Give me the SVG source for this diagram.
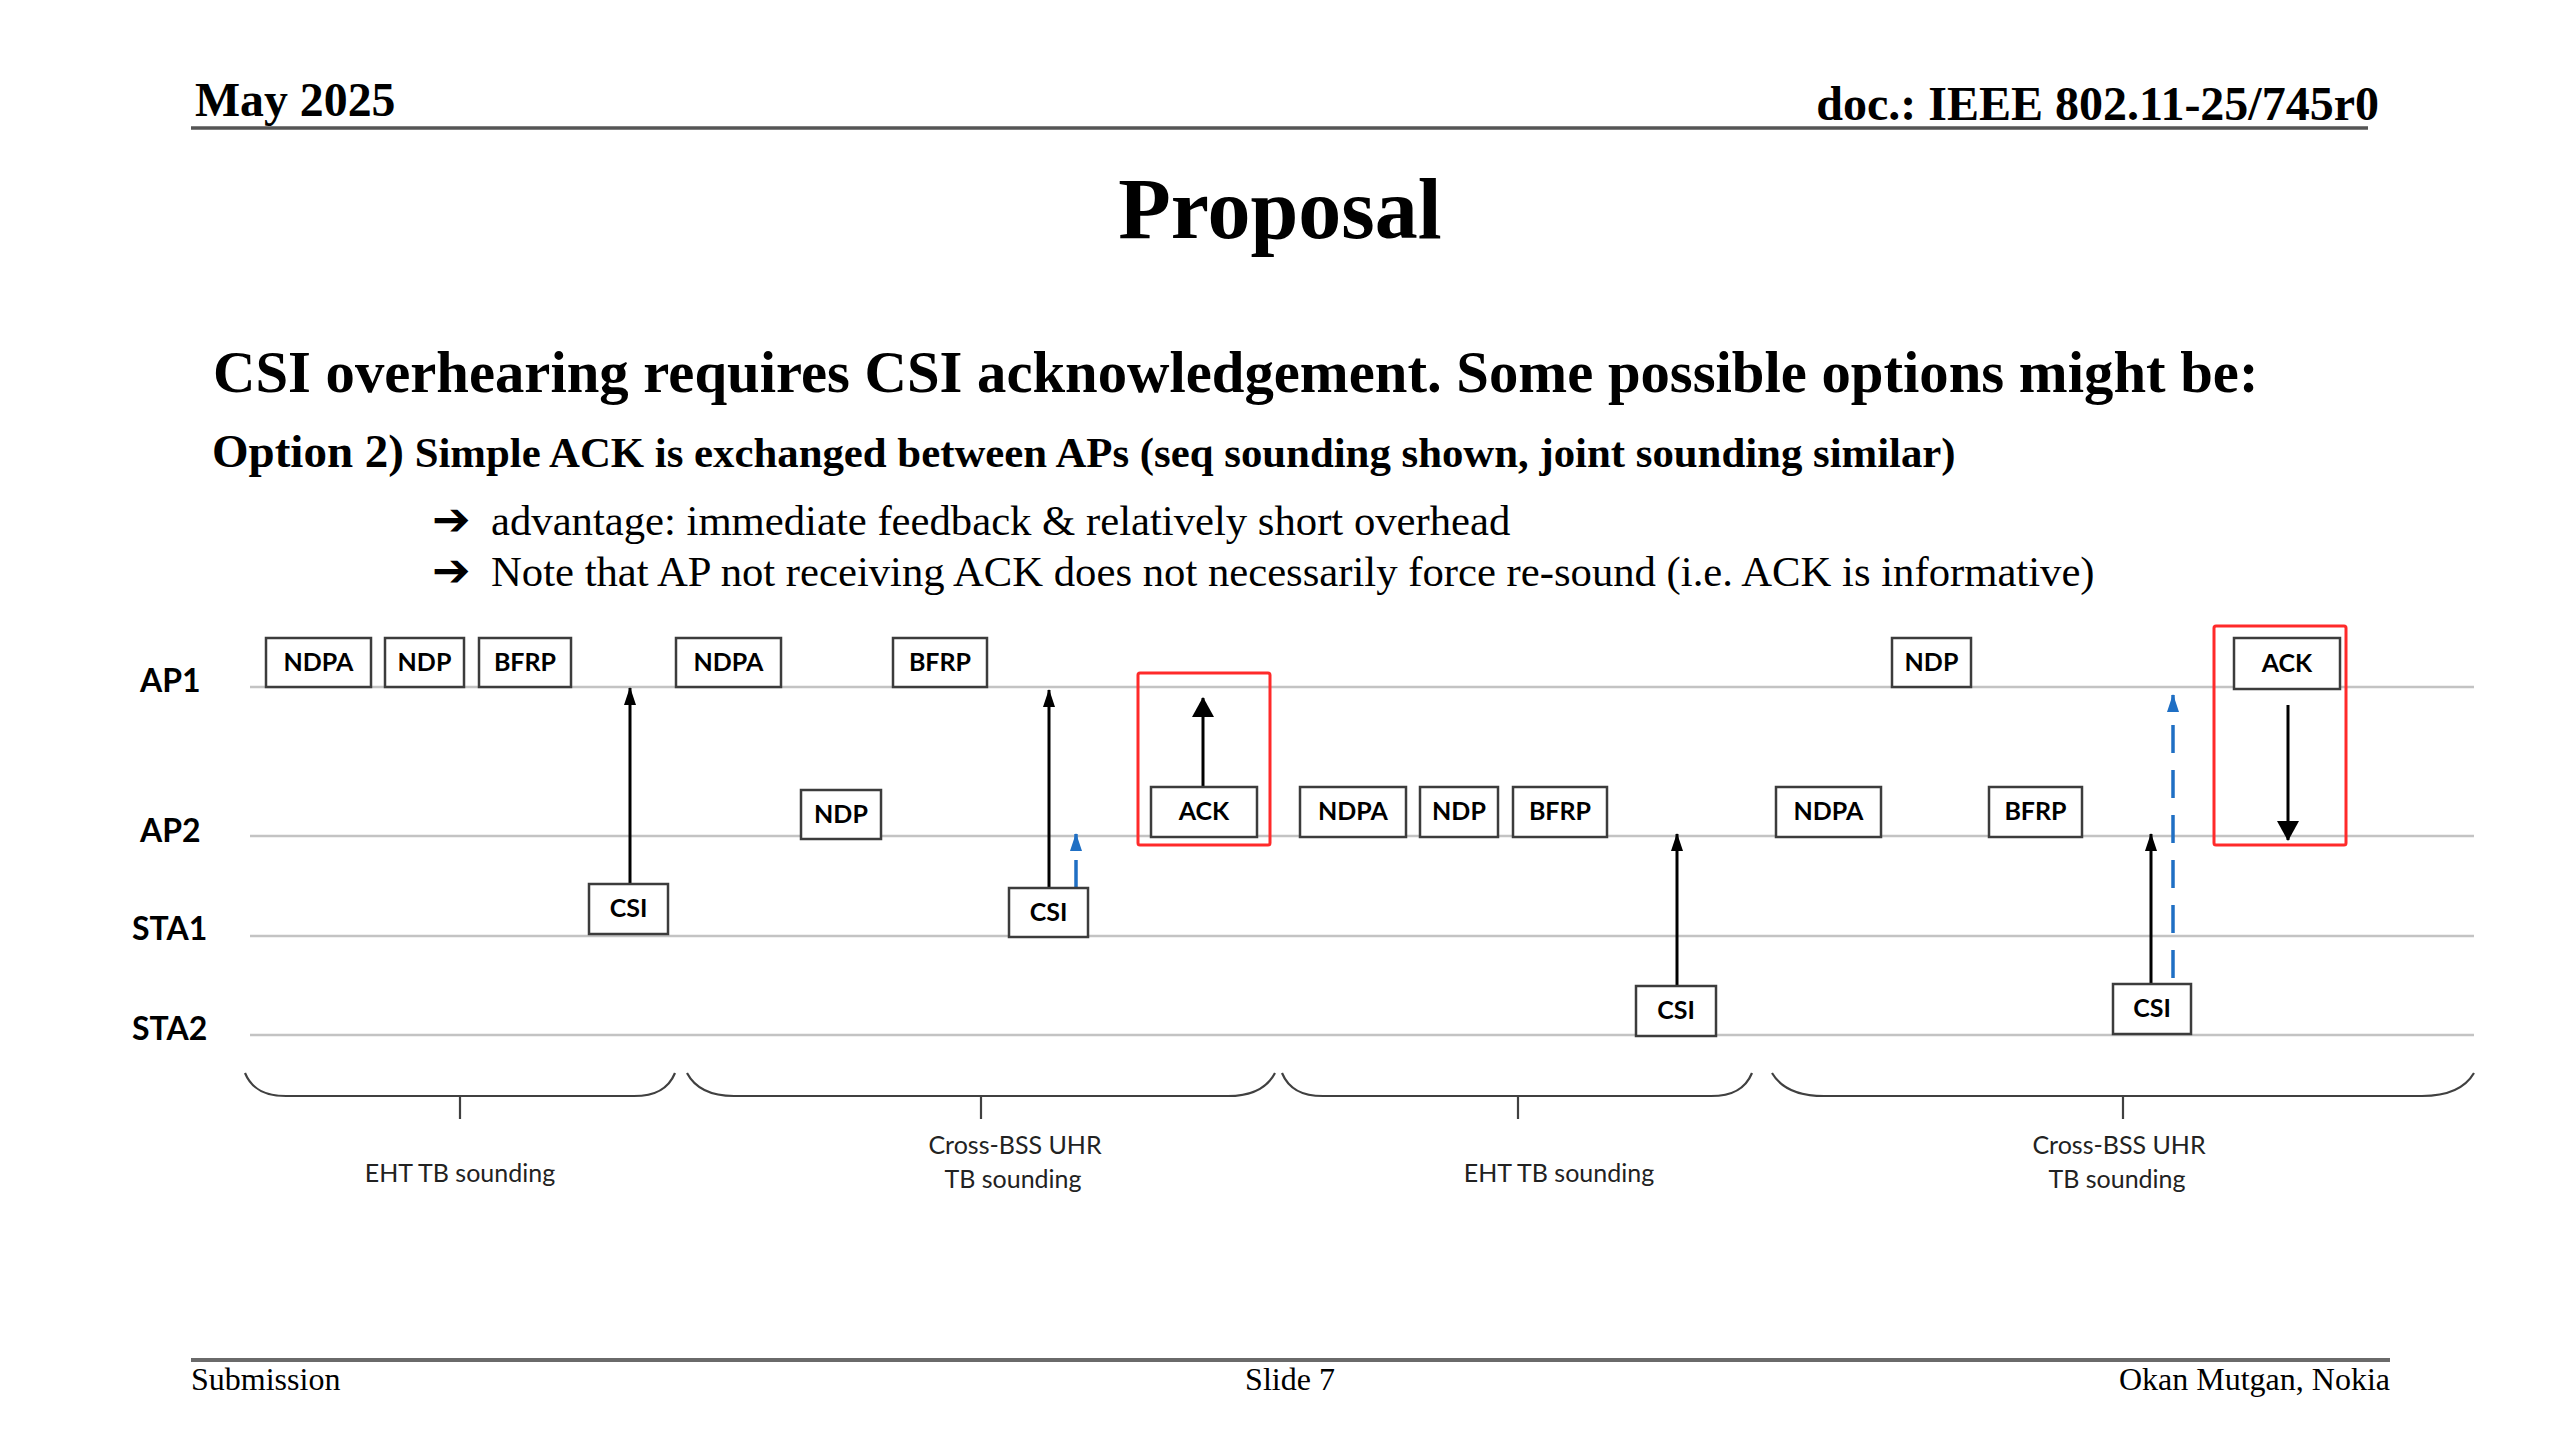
<svg xmlns="http://www.w3.org/2000/svg" width="2560" height="1440" viewBox="0 0 2560 1440">
<style>
.serif{font-family:"Liberation Serif","Times New Roman",serif;fill:#000}
.b{font-weight:bold}
.life{stroke:#c3c3c3;stroke-width:2.5;fill:none}
.box{fill:#fff;stroke:#3c3c3c;stroke-width:2.5}
.bt{font-family:Lato,"Open Sans","Liberation Sans",sans-serif;font-weight:bold;font-size:25px;text-anchor:middle;fill:#000}
.lbl{font-family:Lato,"Open Sans","Liberation Sans",sans-serif;font-weight:bold;font-size:32px;fill:#000}
.cap{font-family:Lato,"Open Sans","Liberation Sans",sans-serif;font-size:25px;text-anchor:middle;fill:#222}
.blk{stroke:#000;stroke-width:3;fill:none}
.blue{stroke:#1f6fc4;stroke-width:3.5;fill:none;stroke-dasharray:28 17}
.red{fill:none;stroke:#ff2a2a;stroke-width:3}
.brace{fill:none;stroke:#404040;stroke-width:2.2}
.rule{stroke:#555;stroke-width:3.5}
.arw{font-family:"DejaVu Sans",sans-serif;font-size:46px;font-weight:bold;fill:#000}
</style>
<defs>
<marker id="ah" viewBox="0 0 18 12" refX="17" refY="6" markerWidth="18" markerHeight="12" markerUnits="userSpaceOnUse" orient="auto">
<path d="M0,0 L18,6 L0,12 z" fill="#000"/>
</marker>
<marker id="ahBig" viewBox="0 0 20 22" refX="19" refY="11" markerWidth="20" markerHeight="22" markerUnits="userSpaceOnUse" orient="auto">
<path d="M0,0 L20,11 L0,22 z" fill="#000"/>
</marker>
<marker id="ahBlue" viewBox="0 0 18 12" refX="17" refY="6" markerWidth="18" markerHeight="12" markerUnits="userSpaceOnUse" orient="auto">
<path d="M0,0 L18,6 L0,12 z" fill="#1f6fc4"/>
</marker>
</defs>
<rect width="2560" height="1440" fill="#fff"/>

<g id="header">
<text class="serif b" x="195" y="116" font-size="47.8">May 2025</text>
<text class="serif b" x="2379" y="120" font-size="48" text-anchor="end">doc.: IEEE 802.11-25/745r0</text>
<line class="rule" x1="191" y1="128" x2="2368" y2="128"/>
</g>

<g id="title">
<text class="serif b" x="1280" y="238" font-size="86" text-anchor="middle">Proposal</text>
</g>

<g id="body-text">
<text class="serif b" x="213" y="392" font-size="58.7">CSI overhearing requires CSI acknowledgement. Some possible options might be:</text>
<text class="serif b" x="212" y="467"><tspan font-size="47">Option 2)</tspan><tspan font-size="42.8"> Simple ACK is exchanged between APs (seq sounding shown, joint sounding similar)</tspan></text>
<text class="arw" x="432" y="535">➔</text>
<text class="serif" x="491" y="535" font-size="42.7">advantage: immediate feedback &amp; relatively short overhead</text>
<text class="arw" x="432" y="586">➔</text>
<text class="serif" x="491" y="586" font-size="42.7">Note that AP not receiving ACK does not necessarily force re-sound (i.e. ACK is informative)</text>
</g>

<g id="lifelines">
<line class="life" x1="250" y1="687" x2="2474" y2="687"/>
<line class="life" x1="250" y1="836" x2="2474" y2="836"/>
<line class="life" x1="250" y1="936" x2="2474" y2="936"/>
<line class="life" x1="250" y1="1035" x2="2474" y2="1035"/>
<text class="lbl" x="140" y="692">AP1</text>
<text class="lbl" x="140" y="842">AP2</text>
<text class="lbl" x="132" y="940">STA1</text>
<text class="lbl" x="132" y="1040">STA2</text>
</g>

<g id="highlight-boxes">
<rect class="red" x="1138" y="673" width="132" height="172" rx="2"/>
<rect class="red" x="2214" y="626" width="132" height="219" rx="2"/>
</g>

<g id="connectors">
<line class="blk" x1="630" y1="884" x2="630" y2="688" marker-end="url(#ah)"/>
<line class="blk" x1="1049" y1="888" x2="1049" y2="690" marker-end="url(#ah)"/>
<line class="blue" x1="1076" y1="888" x2="1076" y2="834" marker-end="url(#ahBlue)"/>
<line class="blk" x1="1203" y1="787" x2="1203" y2="698" marker-end="url(#ahBig)"/>
<line class="blk" x1="1677" y1="986" x2="1677" y2="834" marker-end="url(#ah)"/>
<line class="blk" x1="2151" y1="984" x2="2151" y2="834" marker-end="url(#ah)"/>
<line class="blue" x1="2173" y1="978" x2="2173" y2="695" marker-end="url(#ahBlue)"/>
<line class="blk" x1="2288" y1="705" x2="2288" y2="840" marker-end="url(#ahBig)"/>
</g>

<g id="n-ndpa1"><rect class="box" x="266" y="638" width="105" height="49"/><text class="bt" x="318.5" y="671">NDPA</text></g>
<g id="n-ndp1"><rect class="box" x="385" y="638" width="79" height="49"/><text class="bt" x="424.5" y="671">NDP</text></g>
<g id="n-bfrp1"><rect class="box" x="479" y="638" width="92" height="49"/><text class="bt" x="525" y="671">BFRP</text></g>
<g id="n-ndpa2"><rect class="box" x="676" y="638" width="105" height="49"/><text class="bt" x="728.5" y="671">NDPA</text></g>
<g id="n-bfrp2"><rect class="box" x="893" y="638" width="94" height="49"/><text class="bt" x="940" y="671">BFRP</text></g>
<g id="n-ndp4"><rect class="box" x="1892" y="638" width="79" height="49"/><text class="bt" x="1931.5" y="671">NDP</text></g>
<g id="n-ack2"><rect class="box" x="2234" y="638" width="106" height="51"/><text class="bt" x="2287" y="672">ACK</text></g>

<g id="n-ndp2"><rect class="box" x="801" y="790" width="80" height="49"/><text class="bt" x="841" y="823">NDP</text></g>
<g id="n-ack1"><rect class="box" x="1151" y="787" width="106" height="50"/><text class="bt" x="1204" y="820">ACK</text></g>
<g id="n-ndpa3"><rect class="box" x="1300" y="787" width="106" height="50"/><text class="bt" x="1353" y="820">NDPA</text></g>
<g id="n-ndp3"><rect class="box" x="1420" y="787" width="78" height="50"/><text class="bt" x="1459" y="820">NDP</text></g>
<g id="n-bfrp3"><rect class="box" x="1513" y="787" width="94" height="50"/><text class="bt" x="1560" y="820">BFRP</text></g>
<g id="n-ndpa4"><rect class="box" x="1776" y="787" width="105" height="50"/><text class="bt" x="1828.5" y="820">NDPA</text></g>
<g id="n-bfrp4"><rect class="box" x="1989" y="787" width="93" height="50"/><text class="bt" x="2035.5" y="820">BFRP</text></g>

<g id="n-csi1"><rect class="box" x="589" y="884" width="79" height="50"/><text class="bt" x="628.5" y="917">CSI</text></g>
<g id="n-csi2"><rect class="box" x="1009" y="888" width="79" height="49"/><text class="bt" x="1048.5" y="921">CSI</text></g>
<g id="n-csi3"><rect class="box" x="1636" y="986" width="80" height="50"/><text class="bt" x="1676" y="1019">CSI</text></g>
<g id="n-csi4"><rect class="box" x="2113" y="984" width="78" height="50"/><text class="bt" x="2152" y="1017">CSI</text></g>

<g id="braces">
<path class="brace" d="M245,1073 C252,1090 266,1096 286,1096 L634,1096 C654,1096 668,1090 675,1073 M460,1096 L460,1119"/>
<path class="brace" d="M687,1073 C696,1090 712,1096 734,1096 L1228,1096 C1250,1096 1266,1090 1275,1073 M981,1096 L981,1119"/>
<path class="brace" d="M1282,1073 C1289,1090 1303,1096 1323,1096 L1711,1096 C1731,1096 1745,1090 1752,1073 M1518,1096 L1518,1119"/>
<path class="brace" d="M1772,1073 C1782,1090 1800,1096 1824,1096 L2422,1096 C2446,1096 2464,1090 2474,1073 M2123,1096 L2123,1119"/>
<text class="cap" x="460" y="1182">EHT TB sounding</text>
<text class="cap" x="1015" y="1154">Cross-BSS UHR</text>
<text class="cap" x="1013" y="1188">TB sounding</text>
<text class="cap" x="1559" y="1182">EHT TB sounding</text>
<text class="cap" x="2119" y="1154">Cross-BSS UHR</text>
<text class="cap" x="2117" y="1188">TB sounding</text>
</g>

<g id="footer">
<line x1="191" y1="1360" x2="2390" y2="1360" stroke="#6a6a6a" stroke-width="4"/>
<text class="serif" x="191" y="1390" font-size="32">Submission</text>
<text class="serif" x="1290" y="1390" font-size="32" text-anchor="middle">Slide 7</text>
<text class="serif" x="2390" y="1390" font-size="32" text-anchor="end">Okan Mutgan, Nokia</text>
</g>
</svg>
